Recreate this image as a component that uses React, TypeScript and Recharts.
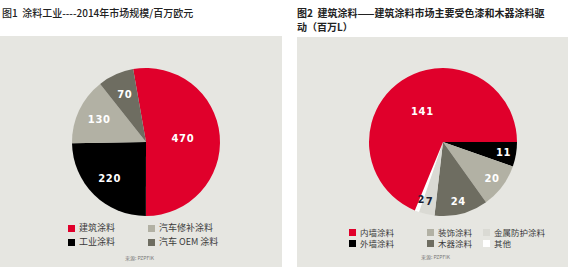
import React from 'react'
import { PieChart, Pie, Cell } from 'recharts'

// 图1: 涂料工业 2014年市场规模 (百万欧元)
const industryNames = ['建筑涂料', '工业涂料', '汽车修补涂料', '汽车 OEM 涂料']
const industryValues = [470, 220, 130, 70]
const industryColors = ['#e0002b', '#000000', '#b2b1a4', '#6e6d61']

// 图2: 建筑涂料 (百万L)
const archNames = ['外墙涂料', '装饰涂料', '木器涂料', '金属防护涂料', '其他', '内墙涂料']
const archValues = [11, 20, 24, 7, 2, 141]
const archColors = ['#000000', '#b2b1a4', '#6e6d61', '#dadad4', '#ffffff', '#e0002b']

// legend order, filled column by column as printed
const industryLegend = [0, 1, 2, 3]
const archLegend = [5, 0, 1, 2, 3, 4]

const BG = '#e6e6e1'
const FONT = '"Noto Sans CJK SC", "Noto Sans", sans-serif'
const RADIAN = Math.PI / 180

const industryData = industryNames.map((name, i) => ({ name, value: industryValues[i] }))
const archData = archNames.map((name, i) => ({ name, value: archValues[i] }))

function makeLabel(factor: number, darkFor: number[]) {
  return (props: any) => {
    const { cx, cy, midAngle, outerRadius, value, percent, index } = props
    const r = outerRadius * (percent > 0.5 ? 0.5 : factor)
    const x = cx + r * Math.cos(-midAngle * RADIAN)
    const y = cy + r * Math.sin(-midAngle * RADIAN)
    return (
      <text
        x={x}
        y={y}
        fill={darkFor.includes(index) ? '#1c2233' : '#ffffff'}
        textAnchor="middle"
        dominantBaseline="central"
        fontSize={10}
        fontWeight="bold"
        fontFamily='"DejaVu Sans", sans-serif'
        letterSpacing={0.6}
      >
        {value}
      </text>
    )
  }
}

function Legend({ names, colors, order, left, top, colX, rowHeight, fontSize }: any) {
  return (
    <div style={{ position: 'absolute', left, top, fontFamily: FONT, fontSize, lineHeight: `${rowHeight}px`, color: '#3a3a3a' }}>
      {order.map((idx: number, k: number) => {
        const row = k % 2
        const col = Math.floor(k / 2)
        return (
          <div
            key={names[idx]}
            style={{
              position: 'absolute',
              left: colX[col],
              top: row * rowHeight,
              height: rowHeight,
              display: 'flex',
              alignItems: 'center',
              whiteSpace: 'nowrap',
            }}
          >
            <span style={{ display: 'inline-block', width: 7, height: 7, background: colors[idx], marginRight: 4 }} />
            {names[idx]}
          </div>
        )
      })}
    </div>
  )
}

const titleStyle: React.CSSProperties = {
  position: 'absolute',
  fontFamily: FONT,
  fontSize: 10,
  lineHeight: '12px',
  color: '#222',
  whiteSpace: 'nowrap',
}

export default function App() {
  return (
    <div style={{ position: 'absolute', left: 0, top: 0, width: 568, height: 267, background: '#fff', overflow: 'hidden' }}>
      <div style={{ position: 'absolute', left: 0, top: 36, width: 282, height: 231, background: BG }} />
      <div style={{ position: 'absolute', left: 297, top: 37, width: 271, height: 230, background: BG }} />

      <div style={{ ...titleStyle, left: 2, top: 7, fontWeight: 500 }}>
        图1&nbsp;&nbsp;涂料工业----2014年市场规模/百万欧元
      </div>
      <div style={{ ...titleStyle, left: 297, top: 7, fontWeight: 'bold' }}>
        图2&nbsp;&nbsp;建筑涂料——建筑涂料市场主要受色漆和木器涂料驱
      </div>
      <div style={{ ...titleStyle, left: 297, top: 21, fontWeight: 'bold' }}>动（百万L）</div>

      <div style={{ position: 'absolute', left: 0, top: 0 }}>
        <PieChart width={568} height={267}>
          <Pie
            data={industryData}
            dataKey="value"
            cx={141}
            cy={137}
            outerRadius={74}
            startAngle={100}
            endAngle={-260}
            stroke="none"
            labelLine={false}
            label={makeLabel(0.7, [])}
            isAnimationActive={false}
          >
            {industryData.map((d, i) => (
              <Cell key={d.name} fill={industryColors[i]} />
            ))}
          </Pie>
          <Pie
            data={archData}
            dataKey="value"
            cx={438}
            cy={137}
            outerRadius={74}
            startAngle={0}
            endAngle={-360}
            stroke="none"
            labelLine={false}
            label={makeLabel(0.83, [3, 4])}
            isAnimationActive={false}
          >
            {archData.map((d, i) => (
              <Cell key={d.name} fill={archColors[i]} />
            ))}
          </Pie>
        </PieChart>
      </div>

      <Legend names={industryNames} colors={industryColors} order={industryLegend} left={68} top={221} colX={[0, 80]} rowHeight={14} fontSize={9} />
      <Legend names={archNames} colors={archColors} order={archLegend} left={349} top={227} colX={[0, 78, 134]} rowHeight={11} fontSize={8.5} />

      <div style={{ position: 'absolute', left: 125, top: 254, fontFamily: FONT, fontSize: 5, color: '#777' }}>来源: PZPFIK</div>
      <div style={{ position: 'absolute', left: 421, top: 253, fontFamily: FONT, fontSize: 5, color: '#777' }}>来源: PZPFIK</div>
    </div>
  )
}
